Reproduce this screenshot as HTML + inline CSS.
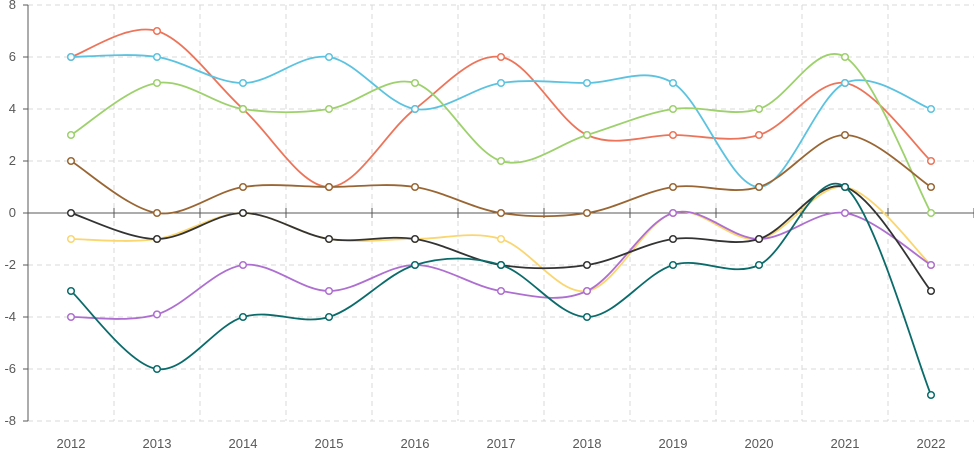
<!DOCTYPE html>
<html><head><meta charset="utf-8"><style>
html,body{margin:0;padding:0;background:#fff;}
svg{display:block;font-family:"Liberation Sans",sans-serif;}
</style></head><body>
<svg id="chart" width="974" height="449"></svg>
<script>
const categories=["2012","2013","2014","2015","2016","2017","2018","2019","2020","2021","2022"];
const yTicks=[-8,-6,-4,-2,0,2,4,6,8];
const seriesRed=[6,7,4,1,4,6,3,3,3,5,2];
const seriesCyan=[6,6,5,6,4,5,5,5,1,5,4];
const seriesGreen=[3,5,4,4,5,2,3,4,4,6,0];
const seriesBrown=[2,0,1,1,1,0,0,1,1,3,1];
const seriesYellow=[-1,-1,0,-1,-1,-1,-3,0,-1,1,-2];
const seriesPurple=[-4,-3.9,-2,-3,-2,-3,-3,0,-1,0,-2];
const seriesDark=[0,-1,0,-1,-1,-2,-2,-1,-1,1,-3];
const seriesTeal=[-3,-6,-4,-4,-2,-2,-4,-2,-2,1,-7];
const series=[
 {name:"red",data:seriesRed,color:"#ED7459"},
 {name:"cyan",data:seriesCyan,color:"#5BC3E0"},
 {name:"green",data:seriesGreen,color:"#9DD16C"},
 {name:"brown",data:seriesBrown,color:"#996633"},
 {name:"yellow",data:seriesYellow,color:"#FAD671"},
 {name:"purple",data:seriesPurple,color:"#AE6FD0"},
 {name:"dark",data:seriesDark,color:"#333333"},
 {name:"teal",data:seriesTeal,color:"#0B6B6B"}
];
const NS="http://www.w3.org/2000/svg";
const svg=document.getElementById("chart");
const L=28,R=974,T=5,B=421;
const step=(R-L)/categories.length;
const x=i=>L+step*(i+0.5);
const y=v=>T+(8-v)*(B-T)/16;
function el(tag,attrs,parent){const e=document.createElementNS(NS,tag);for(const k in attrs)e.setAttribute(k,attrs[k]);(parent||svg).appendChild(e);return e;}
// gridlines
yTicks.forEach(t=>{
 if(t!==0){const g=el("line",{x1:L,x2:R,y1:y(t),y2:y(t),stroke:"#d9d9d9","stroke-dasharray":"5,4","stroke-width":1});
 
 }
 const tx=el("text",{x:16,y:y(t)+4,"text-anchor":"end","font-size":13,fill:"#595959"});
 tx.textContent=t;
 
 
});
for(let i=1;i<categories.length;i++){
 const xv=L+step*i;
 const g=el("line",{x1:xv,x2:xv,y1:T,y2:B,stroke:"#d9d9d9","stroke-dasharray":"5,4"});
 
 
}
const ya=el("line",{x1:L,x2:L,y1:T,y2:B,stroke:"#595959"});


for(let i=0;i<=categories.length;i++){
 const xv=L+step*i;
 const tk=el("line",{x1:xv,x2:xv,y1:y(0)-5,y2:y(0)+5,stroke:"#595959"});
 
 
}
yTicks.forEach(t=>{const tk=el("line",{x1:L-5,x2:L,y1:y(t),y2:y(t),stroke:"#595959"});
 
 });
const xa=el("line",{x1:L,x2:R,y1:y(0),y2:y(0),stroke:"#595959"});


categories.forEach((c,i)=>{
 const tx=el("text",{x:x(i),y:448,"text-anchor":"middle","font-size":13,fill:"#595959"});
 tx.textContent=c;
 
 
});
function smooth(pts){
 let d="M"+pts[0][0]+","+pts[0][1];
 for(let i=0;i<pts.length-1;i++){
  const p0=pts[i-1]||pts[i],p1=pts[i],p2=pts[i+1],p3=pts[i+2]||p2;
  const c1=[p1[0]+(p2[0]-p0[0])/6,p1[1]+(p2[1]-p0[1])/6];
  const c2=[p2[0]-(p3[0]-p1[0])/6,p2[1]-(p3[1]-p1[1])/6];
  d+=" C"+c1+" "+c2+" "+p2;
 }
 return d;
}
series.forEach(s=>{
 const g=el("g",{});
 
 
 const pts=s.data.map((v,i)=>[x(i),y(v)]);
 const p=el("path",{d:smooth(pts),fill:"none",stroke:s.color,"stroke-width":1.8},g);
 
 
 pts.forEach(pt=>{
  const c=el("circle",{cx:pt[0],cy:pt[1],r:3.3,fill:"#fff",stroke:s.color,"stroke-width":1.5},g);
  
  
 });
});
</script>
</body></html>
